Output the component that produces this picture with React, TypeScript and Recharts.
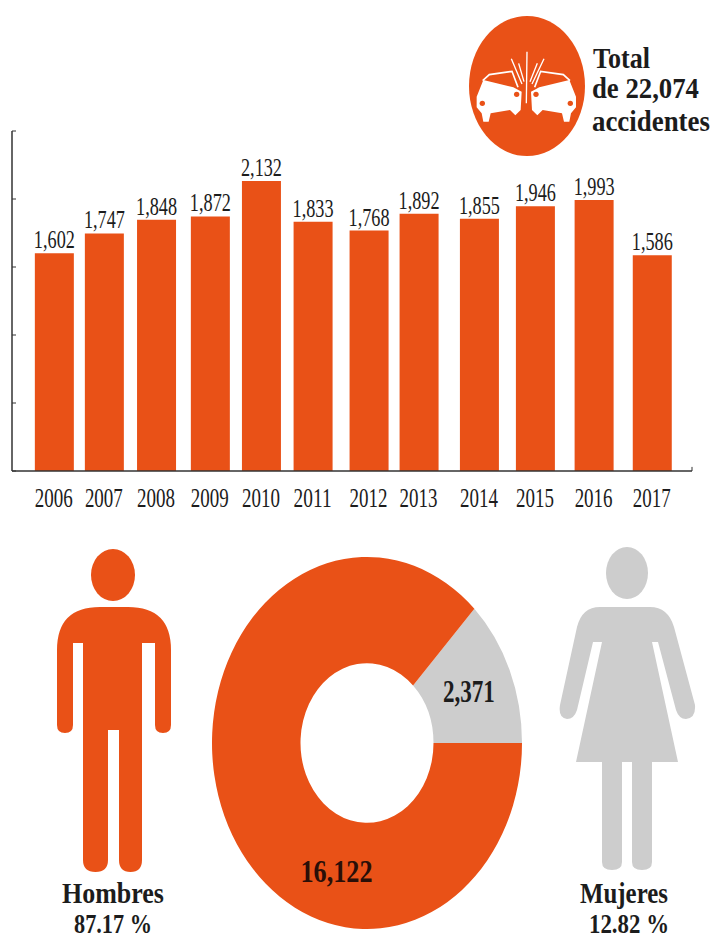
import { BarChart, Bar, XAxis, YAxis, LabelList, ReferenceLine, PieChart, Pie, Cell } from 'recharts'

const ORANGE = '#E95117'
const GREY = '#CDCDCD'
const INK = '#1c1c1c'
const SERIF = '"Liberation Serif"'

const years = ['2006', '2007', '2008', '2009', '2010', '2011', '2012', '2013', '2014', '2015', '2016', '2017']
const accidents = [1602, 1747, 1848, 1872, 2132, 1833, 1768, 1892, 1855, 1946, 1993, 1586]
// The columns are hand-spaced in this layout, so each year sits at its own spot on the axis
const yearSlots = [2006, 2006.92, 2007.88, 2008.87, 2009.81, 2010.76, 2011.79, 2012.71, 2013.82, 2014.85, 2015.93, 2017]
const slotDomain = [2005.23, 2017.74]
const yTicks = [0, 500, 1000, 1500, 2000, 2500]

const genderNames = ['Mujeres', 'Hombres']
const genderValues = [2371, 16122]
const genderColors = [GREY, ORANGE]
// 16,122 is set low in its slice instead of at the slice's midpoint
const genderLabelAngles = [null, 254]

const barData = years.map((year, i) => ({ year, slot: yearSlots[i], value: accidents[i] }))
const pieData = genderNames.map((name, i) => ({ name, value: genderValues[i] }))

const fmt = (n: number) => n.toLocaleString('en-US')

const measure = document.createElement('canvas').getContext('2d')!

// Condensed newspaper type: real text, squeezed horizontally to a given width
function Squeezed({ x, y, width, size, bold = false, anchor = 'middle', fill = INK, children }: any) {
  const weight = bold ? 'bold' : 'normal'
  measure.font = `${weight} ${size}px ${SERIF}`
  const sx = width / measure.measureText(children).width
  return (
    <text
      transform={`translate(${x} ${y}) scale(${sx} 1)`}
      textAnchor={anchor}
      fontFamily={SERIF}
      fontWeight={weight}
      fontSize={size}
      fill={fill}
    >
      {children}
    </text>
  )
}

function YearTick({ x, y, payload }: any) {
  const year = years[yearSlots.indexOf(payload.value)]
  return <Squeezed x={x} y={y + 28} width={38} size={27}>{year}</Squeezed>
}

function ValueLabel({ x, y, width, value }: any) {
  return <Squeezed x={x + width / 2} y={y - 5} width={41} size={26}>{fmt(value)}</Squeezed>
}

function PieValueLabel({ cx, cy, midAngle, innerRadius, outerRadius, value, index }: any) {
  const angle = ((genderLabelAngles[index] ?? midAngle) * Math.PI) / 180
  const r = (innerRadius + outerRadius) / 2
  return (
    <Squeezed
      x={cx + r * Math.cos(angle)}
      y={cy - r * Math.sin(angle) + 9}
      width={index === 1 ? 72 : 52}
      size={27}
      bold
      fill={index === 1 ? '#2a0f08' : INK}
    >
      {fmt(value)}
    </Squeezed>
  )
}

// One crashed car, facing right; the second is its mirror image
function Car() {
  return (
    <g>
      <path d="M80 290 L100 240 L190 262 L215 275 L212 330 L196 346 L180 330 L122 340 L116 365 L100 365 L95 340 L80 322 Z" fill="#fff" />
      <path d="M98 242 L118 224 L186 214 L204 262" fill="none" stroke="#fff" strokeWidth={5} />
      <circle cx={97} cy={310} r={8} fill={ORANGE} />
      <circle cx={200} cy={283} r={8} fill={ORANGE} />
    </g>
  )
}

function Overlay() {
  return (
    <svg width={712} height={940} style={{ position: 'absolute', left: 0, top: 0, pointerEvents: 'none' }}>
      {/* crash badge */}
      <ellipse cx={527} cy={86} rx={58} ry={70} fill={ORANGE} />
      <g transform="translate(450 0) scale(0.3333)">
        <Car />
        <g transform="translate(458 0) scale(-1 1)">
          <Car />
        </g>
        <path d="M231 155 L229 310 M184 176 L216 252 M282 176 L246 252 M206 190 L222 245 M262 190 L240 245" stroke="#fff" strokeWidth={4} fill="none" />
      </g>
      <Squeezed x={593} y={68} width={57} size={30} bold anchor="start">Total</Squeezed>
      <Squeezed x={592} y={98} width={107} size={30} bold anchor="start">de 22,074</Squeezed>
      <Squeezed x={592} y={131} width={118} size={30} bold anchor="start">accidentes</Squeezed>

      {/* man */}
      <ellipse cx={113} cy={575} rx={22} ry={26} fill={ORANGE} />
      <path
        d="M100 607 H128 Q171 607 171 650 V725 Q171 733 163 733 Q155 733 155 725 V643 H142 V860 Q142 872 130.5 872 Q119 872 119 860 V730 H108 V860 Q108 872 95.5 872 Q83 872 83 860 V643 H73 V725 Q73 733 65 733 Q57 733 57 725 V650 Q57 607 100 607 Z"
        fill={ORANGE}
      />
      <Squeezed x={113} y={903} width={102} size={29} bold>Hombres</Squeezed>
      <Squeezed x={113} y={933} width={78} size={28} bold>87.17 %</Squeezed>

      {/* woman */}
      <ellipse cx={627} cy={573} rx={21} ry={26} fill={GREY} />
      <path
        d="M600 607 H650 Q668 607 674 627 L695 705 Q696 718 686 719 Q679 719 676 710 L658 642 H652 L678 762 H652 V862 Q652 870 642 870 Q632 870 632 862 V762 H622 V862 Q622 870 612 870 Q602 870 602 862 V762 H576 L602 642 H593 L577 710 Q574 719 567 719 Q558 718 560 705 L577 627 Q582 607 600 607 Z"
        fill={GREY}
      />
      <Squeezed x={624} y={903} width={88} size={29} bold>Mujeres</Squeezed>
      <Squeezed x={629} y={933} width={80} size={28} bold>12.82 %</Squeezed>
    </svg>
  )
}

export default function App() {
  return (
    <div style={{ position: 'absolute', left: 0, top: 0, width: 712, height: 940, background: '#fff', overflow: 'hidden' }}>
      <BarChart width={712} height={530} data={barData} margin={{ top: 131, right: 20, bottom: 0, left: 12 }}>
        <XAxis
          dataKey="slot"
          type="number"
          domain={slotDomain}
          ticks={yearSlots}
          interval={0}
          height={59}
          tick={<YearTick />}
          tickLine={false}
          axisLine={{ stroke: '#333', strokeWidth: 1.5 }}
        />
        <YAxis
          domain={[0, 2500]}
          ticks={yTicks}
          width={1}
          orientation="left"
          mirror
          tickSize={4}
          tick={() => <g />}
          tickLine={{ stroke: '#333' }}
          axisLine={{ stroke: '#333', strokeWidth: 1.5 }}
        />
        <ReferenceLine segment={[{ x: slotDomain[1], y: 0 }, { x: slotDomain[1], y: 30 }]} stroke="#333" />
        <Bar dataKey="value" fill={ORANGE} barSize={39} isAnimationActive={false}>
          <LabelList dataKey="value" content={<ValueLabel />} />
        </Bar>
      </BarChart>

      {/* the ring is taller than wide, so a round pie gets stretched vertically */}
      <div style={{ position: 'absolute', left: 202, top: 578, width: 330, height: 330, transform: 'scaleY(1.2)' }}>
        <PieChart width={330} height={330} margin={{ top: 0, right: 0, bottom: 0, left: 0 }}>
          <Pie
            data={pieData}
            dataKey="value"
            cx={165}
            cy={165}
            innerRadius={66.5}
            outerRadius={155}
            startAngle={0}
            endAngle={360}
            stroke="none"
            label={PieValueLabel}
            labelLine={false}
            isAnimationActive={false}
          >
            {pieData.map((d, i) => (
              <Cell key={d.name} fill={genderColors[i]} />
            ))}
          </Pie>
        </PieChart>
      </div>

      <Overlay />
    </div>
  )
}
